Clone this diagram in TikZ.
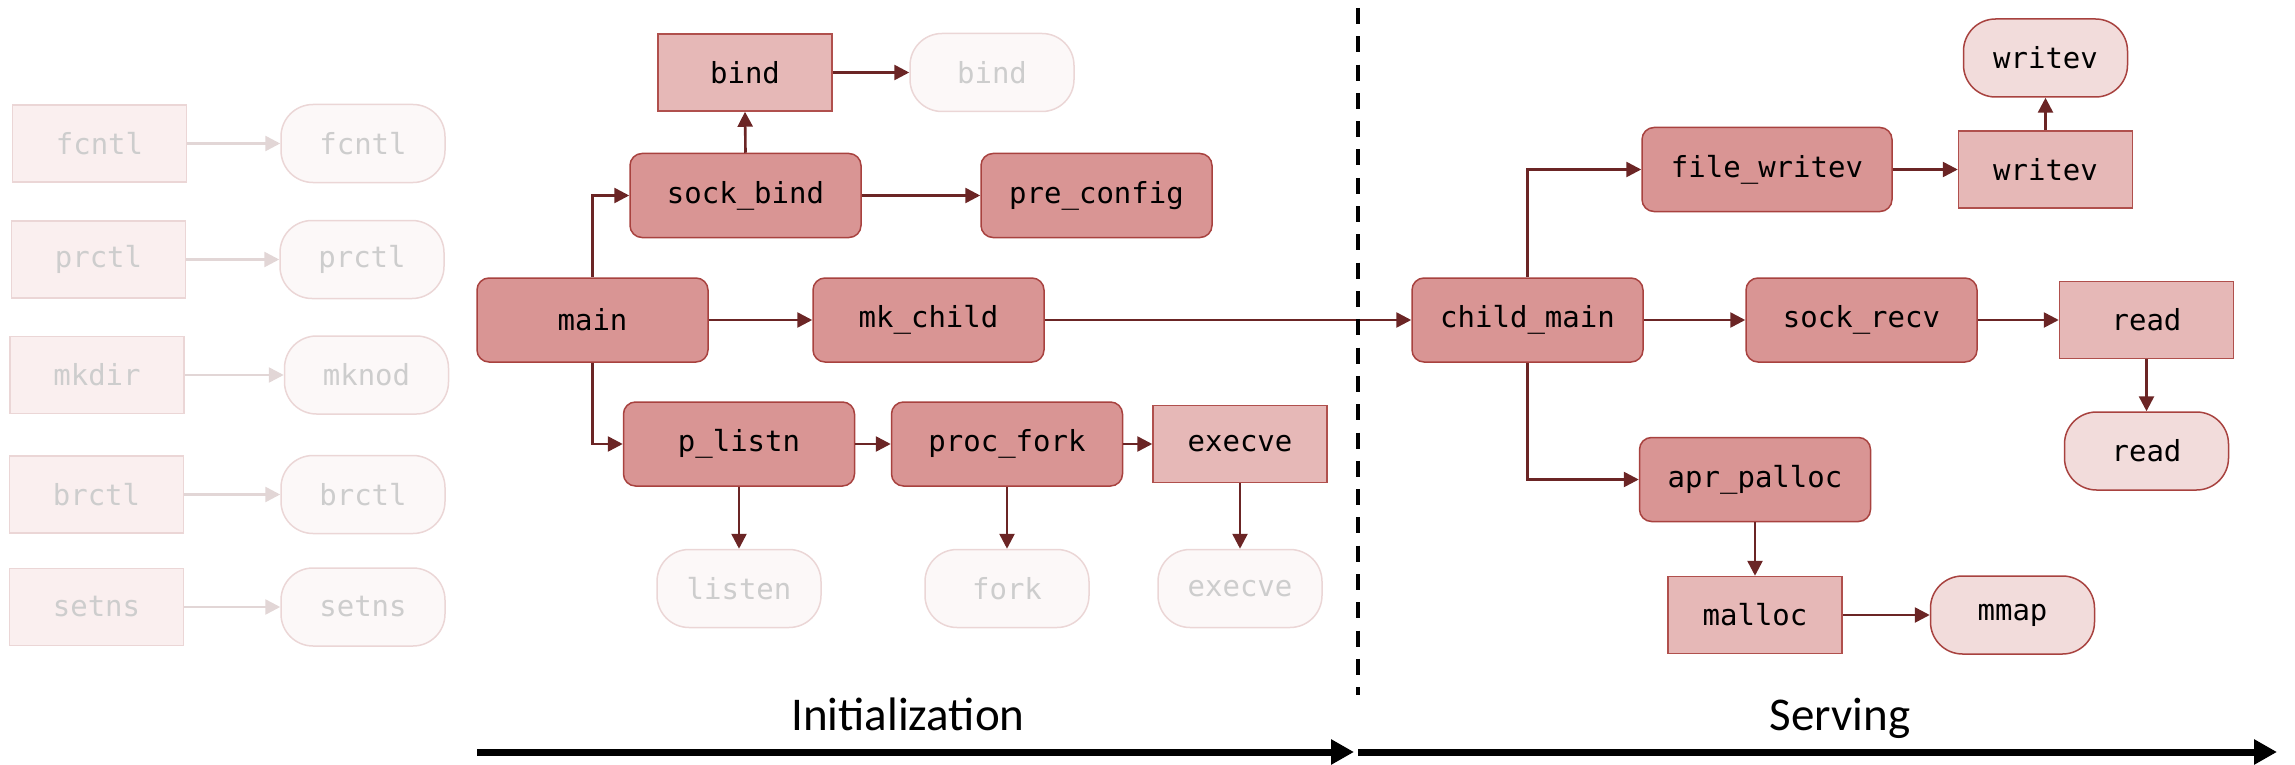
\documentclass[tikz,border=0pt]{standalone}
\usepackage{fontspec}
\usetikzlibrary{arrows.meta}
\newfontfamily\codefont{DejaVu Sans Mono}
\newfontfamily\phasefont{Carlito}

\definecolor{fnfill}{HTML}{D99594}
\definecolor{fnline}{HTML}{A8423F}
\definecolor{sysfill}{HTML}{E6B8B7}
\definecolor{sysline}{HTML}{B0504D}
\definecolor{callfill}{HTML}{F2DCDB}
\definecolor{edgecol}{HTML}{6B2525}
\definecolor{ghostfill}{HTML}{FAEFEF}
\definecolor{ghostcall}{HTML}{FCF8F8}
\definecolor{ghostline}{HTML}{EBD6D6}
\definecolor{ghosttext}{HTML}{CDCDCD}
\definecolor{ghostedge}{HTML}{E2D6D6}

\tikzset{
  x=1pt, y=-1pt,
  base/.style={inner sep=0pt, line width=1.5pt,
    font=\codefont\fontsize{29pt}{34pt}\selectfont},
  fn/.style={base, rectangle, rounded corners=12pt, fill=fnfill, draw=fnline,
    minimum width=231pt, minimum height=84pt},
  sys/.style={base, rectangle, fill=sysfill, draw=sysline,
    minimum width=174pt, minimum height=77pt},
  call/.style={base, rectangle, rounded corners=32pt, fill=callfill, draw=fnline,
    minimum width=164pt, minimum height=78pt},
  gsys/.style={sys, fill=ghostfill, draw=ghostline, text=ghosttext},
  gcall/.style={call, fill=ghostcall, draw=ghostline, text=ghosttext},
  flow/.style={draw=edgecol, line width=2.6pt, -{Triangle[length=15pt,width=15pt]}},
  gflow/.style={flow, draw=ghostedge},
  phase/.style={font=\phasefont\fontsize{47pt}{56pt}\selectfont, anchor=base},
  timeline/.style={line width=7pt, -{Triangle[length=23pt,width=24pt]}}
}

\begin{document}
\begin{tikzpicture}
\useasboundingbox (0,0) rectangle (2295,765);

% left column: unused library calls
\node[gsys]  (fcntlA) at (99.5,143.5) {fcntl};
\node[gcall] (fcntlB) at (363,143.5) {fcntl};
\node[gsys]  (prctlA) at (98.5,259.5) {prctl};
\node[gcall] (prctlB) at (362,259.5) {prctl};
\node[gsys]  (mkdirA) at (97,375) {mkdir};
\node[gcall] (mknodB) at (366.5,375) {mknod};
\node[gsys]  (brctlA) at (96.5,494.5) {brctl};
\node[gcall] (brctlB) at (363,494.5) {brctl};
\node[gsys]  (setnsA) at (96.5,607) {setns};
\node[gcall] (setnsB) at (363,607) {setns};
\foreach \a/\b in {fcntlA/fcntlB, prctlA/prctlB, mkdirA/mknodB, brctlA/brctlB, setnsA/setnsB}
  \draw[gflow] (\a.east) -- (\b.west);

% initialization phase
\node[sys]   (bind)     at (745,72.5) {bind};
\node[gcall] (bindG)    at (992,72.5) {bind};
\node[fn]    (sockbind) at (745.5,195.5) {sock\_bind};
\node[fn]    (precfg)   at (1096.5,195.5) {pre\_config};
\node[fn]    (main)     at (592.5,320) {main};
\node[fn]    (mkchild)  at (928.5,320) {mk\_child};
\node[fn]    (plistn)   at (739,444) {p\_listn};
\node[fn]    (procfork) at (1007,444) {proc\_fork};
\node[sys]   (execA)    at (1240,444) {execve};
\node[gcall] (listen)   at (739,588.5) {listen};
\node[gcall] (fork)     at (1007,588.5) {fork};
\node[gcall] (execB)    at (1240,588.5) {execve};

\draw[flow] (main.north) |- (sockbind.west);
\draw[flow] (main.south) |- (plistn.west);
\draw[flow] (main.east) -- (mkchild.west);
\draw[flow] (sockbind.north) -- (bind.south);
\draw[flow] (bind.east) -- (bindG.west);
\draw[flow] (sockbind.east) -- (precfg.west);
\draw[flow] (plistn.east) -- (procfork.west);
\draw[flow] (procfork.east) -- (execA.west);
\draw[flow] (plistn.south) -- (listen.north);
\draw[flow] (procfork.south) -- (fork.north);
\draw[flow] (execA.south) -- (execB.north);

% serving phase
\node[fn]   (childmain) at (1527.5,320) {child\_main};
\node[fn, minimum width=250pt] (filewritev) at (1767,169.5) {file\_writev};
\node[sys]  (writevA)   at (2045.5,169.5) {writev};
\node[call] (writevB)   at (2045.5,58) {writev};
\node[fn]   (sockrecv)  at (1861.5,320) {sock\_recv};
\node[sys]  (readA)     at (2146.5,320) {read};
\node[call] (readB)     at (2146.5,451) {read};
\node[fn]   (aprpalloc) at (1755,479.5) {apr\_palloc};
\node[sys]  (malloc)    at (1755,615) {malloc};
\node[call] (mmap)      at (2012.5,615) {mmap};

\draw[flow] (mkchild.east) -- (childmain.west);
\draw[flow] (childmain.north) |- (filewritev.west);
\draw[flow] (childmain.south) |- (aprpalloc.west);
\draw[flow] (childmain.east) -- (sockrecv.west);
\draw[flow] (filewritev.east) -- (writevA.west);
\draw[flow] (writevA.north) -- (writevB.south);
\draw[flow] (sockrecv.east) -- (readA.west);
\draw[flow] (readA.south) -- (readB.north);
\draw[flow] (aprpalloc.south) -- (malloc.north);
\draw[flow] (malloc.east) -- (mmap.west);

% phase separator and timeline
\coordinate (sepTop) at (1358,8);
\coordinate (sepBot) at (1358,695);
\draw[line width=3.6pt, dash pattern=on 16pt off 12.3pt] (sepTop) -- (sepBot);

\coordinate (initStart) at (477,752);
\coordinate (initEnd)   at (1354,752);
\coordinate (servStart) at (1358,752);
\coordinate (servEnd)   at (2277,752);
\draw[timeline] (initStart) -- (initEnd);
\draw[timeline] (servStart) -- (servEnd);

\node[phase] (initLabel) at (908,730) {Initialization};
\node[phase] (servLabel) at (1840,730) {Serving};
\end{tikzpicture}
\end{document}
